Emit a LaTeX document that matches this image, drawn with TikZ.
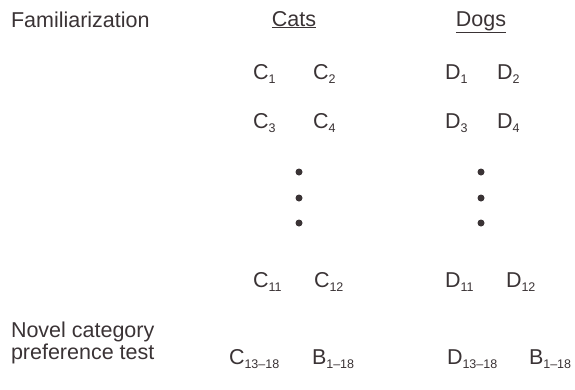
\documentclass[tikz,border=0pt]{standalone}
\usepackage{fontspec}
\setmainfont{Liberation Sans}
\definecolor{ink}{HTML}{3A3335}
% letter with a lowered index
\newcommand{\idx}[2]{#1\raisebox{-4pt}{\fontsize{12.5}{12.5}\selectfont #2}}
\begin{document}
\begin{tikzpicture}[x=1pt,y=-1pt,
  every node/.style={inner sep=0pt,outer sep=0pt,text=ink,font=\fontsize{21.5}{24}\selectfont},
  lab/.style={anchor=base west},
  head/.style={anchor=base},
  dot/.style={circle,fill=ink,minimum size=7pt}]
\useasboundingbox (0,0) rectangle (575,389);
% row titles
\node[lab] (fam) at (11,27) {Familiarization};
\node[lab,align=left] (novel) at (11,359) {Novel category\\[-2pt]preference test};
% column headings
\node[head] (cats) at (294,26) {\underline{Cats}};
\node[head] (dogs) at (481,26) {\underline{Dogs}};
% familiarization items
\node[lab] (c1) at (253,79) {\idx{C}{1}};
\node[lab] (c2) at (313,79) {\idx{C}{2}};
\node[lab] (d1) at (445,79) {\idx{D}{1}};
\node[lab] (d2) at (497,79) {\idx{D}{2}};
\node[lab] (c3) at (253,128) {\idx{C}{3}};
\node[lab] (c4) at (313,128) {\idx{C}{4}};
\node[lab] (d3) at (445,128) {\idx{D}{3}};
\node[lab] (d4) at (497,128) {\idx{D}{4}};
% ellipsis dots
\foreach \y [count=\i] in {172,198,223}{
  \node[dot] (cdot\i) at (299,\y) {};
  \node[dot] (ddot\i) at (481,\y) {};
}
\node[lab] (c11) at (253,287) {\idx{C}{11}};
\node[lab] (c12) at (314,287) {\idx{C}{12}};
\node[lab] (d11) at (445,287) {\idx{D}{11}};
\node[lab] (d12) at (506,287) {\idx{D}{12}};
% test items
\node[lab] (c13) at (229,364) {\idx{C}{13--18}};
\node[lab] (bc) at (312,364) {\idx{B}{1--18}};
\node[lab] (d13) at (447,364) {\idx{D}{13--18}};
\node[lab] (bd) at (529,364) {\idx{B}{1--18}};
\end{tikzpicture}
\end{document}
